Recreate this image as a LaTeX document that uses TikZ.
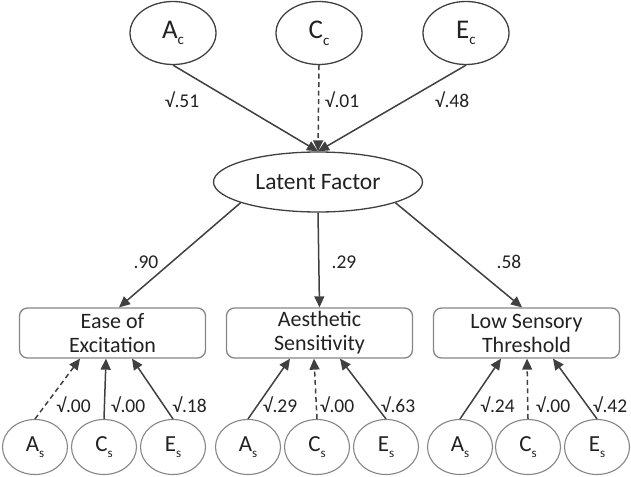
\documentclass[tikz,border=0pt]{standalone}
\usepackage{fontspec}
\setmainfont{Carlito}
\usetikzlibrary{arrows.meta,shapes.geometric,calc}
\definecolor{lin}{HTML}{404040}
\definecolor{grayb}{HTML}{858585}
\definecolor{txt}{HTML}{222222}
\newcommand{\subl}[1]{\raisebox{-0.25em}{\fontsize{15}{15}\selectfont #1}}
\newcommand{\subs}[1]{\raisebox{-0.25em}{\fontsize{13}{13}\selectfont #1}}
\begin{document}
\begin{tikzpicture}[x=1pt,y=-1pt,
  topell/.style={ellipse,draw=lin,line width=1.3pt,minimum width=86pt,minimum height=63pt,inner sep=0pt,text=txt,font=\fontsize{27}{27}\selectfont},
  latell/.style={ellipse,draw=lin,line width=1.3pt,minimum width=209pt,minimum height=60pt,inner sep=0pt,text=txt,font=\fontsize{23.5}{23.5}\selectfont},
  boxn/.style={rectangle,rounded corners=8pt,draw=grayb,line width=1.3pt,minimum width=186pt,minimum height=50pt,inner sep=0pt,align=center,text=txt,font=\fontsize{22}{24}\selectfont},
  botell/.style={ellipse,draw=grayb,line width=1.1pt,minimum width=65pt,minimum height=55pt,inner sep=0pt,text=txt,font=\fontsize{23}{23}\selectfont},
  arr/.style={draw=lin,line width=1.5pt,-{Triangle[length=11pt,width=10pt]}},
  darr/.style={arr,dash pattern=on 5pt off 3.5pt},
  lab/.style={text=txt,font=\fontsize{19.5}{19.5}\selectfont,inner sep=0pt}
]
\useasboundingbox (0,0) rectangle (631,476);
% top ellipses
\node[topell] (Ac) at (173,33) {A\subl{c}};
\node[topell] (Cc) at (319,33) {C\subl{c}};
\node[topell] (Ec) at (466,33) {E\subl{c}};
% latent
\node[latell] (LF) at (318,182) {Latent Factor};
% boxes
\node[boxn] (B1) at (112.5,333) {Ease of\\Excitation};
\node[boxn] (B2) at (319.5,333) {Aesthetic\\Sensitivity};
\node[boxn] (B3) at (526.5,333) {Low Sensory\\Threshold};
% bottom ellipses
\node[botell] (As1) at (35,447) {A\subs{s}};
\node[botell] (Cs1) at (104,447) {C\subs{s}};
\node[botell] (Es1) at (173,447) {E\subs{s}};
\node[botell] (As2) at (248,447) {A\subs{s}};
\node[botell] (Cs2) at (317,447) {C\subs{s}};
\node[botell] (Es2) at (386,447) {E\subs{s}};
\node[botell] (As3) at (460,447) {A\subs{s}};
\node[botell] (Cs3) at (528,447) {C\subs{s}};
\node[botell] (Es3) at (597,447) {E\subs{s}};
% coordinates
\coordinate (t1) at ($(B1.north)+(6.5,0)$);
\coordinate (t3) at ($(B3.north)+(-4.5,0)$);
\coordinate (b1a) at ($(B1.south)+(-32.5,0)$);
\coordinate (b1c) at ($(B1.south)+(-6.5,0)$);
\coordinate (b1e) at ($(B1.south)+(19.5,0)$);
\coordinate (b2a) at ($(B2.south)+(-29.5,0)$);
\coordinate (b2c) at ($(B2.south)+(-5.5,0)$);
\coordinate (b2e) at ($(B2.south)+(20.5,0)$);
\coordinate (b3a) at ($(B3.south)+(-25.5,0)$);
\coordinate (b3c) at ($(B3.south)+(0.5,0)$);
\coordinate (b3e) at ($(B3.south)+(26.5,0)$);
% top arrows
\draw[arr] (Ac.south) -- (LF.north);
\draw[darr] (Cc.south) -- (LF.north);
\draw[arr] (Ec.south) -- (LF.north);
% latent to boxes
\draw[arr] (LF.195) -- (t1);
\draw[arr] (LF.south) -- (B2.north);
\draw[arr] (LF.345) -- (t3);
% bottom arrows
\draw[darr] (As1.north) -- (b1a);
\draw[arr] (Cs1.north) -- (b1c);
\draw[arr] (Es1.north) -- (b1e);
\draw[arr] (As2.north) -- (b2a);
\draw[darr] (Cs2.north) -- (b2c);
\draw[arr] (Es2.north) -- (b2e);
\draw[arr] (As3.north) -- (b3a);
\draw[darr] (Cs3.north) -- (b3c);
\draw[arr] (Es3.north) -- (b3e);
% labels
\node[lab] (l1) at (182,100) {√.51};
\node[lab] (l2) at (342,100) {√.01};
\node[lab] (l3) at (452,100) {√.48};
\node[lab] (l4) at (146,262) {.90};
\node[lab] (l5) at (344,262) {.29};
\node[lab] (l6) at (509,262) {.58};
\node[lab] (m1) at (73.5,405) {√.00};
\node[lab] (m2) at (128,405) {√.00};
\node[lab] (m3) at (189.5,405) {√.18};
\node[lab] (m4) at (280,405) {√.29};
\node[lab] (m5) at (337,405) {√.00};
\node[lab] (m6) at (398,405) {√.63};
\node[lab] (m7) at (497.5,405) {√.24};
\node[lab] (m8) at (553,405) {√.00};
\node[lab] (m9) at (610,405) {√.42};
\end{tikzpicture}
\end{document}
